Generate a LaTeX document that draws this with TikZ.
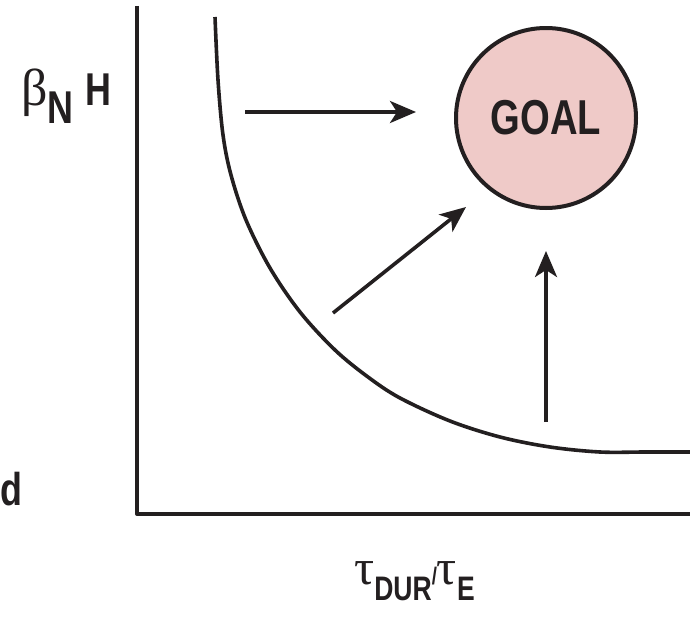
\documentclass[tikz,border=0pt]{standalone}
\usepackage{fontspec}
\setmainfont{Liberation Sans}
\newfontfamily\condfont[FakeStretch=0.78,BoldFont={Liberation Sans Bold}]{Liberation Sans}
\newfontfamily\greekfont{Liberation Serif}
\usetikzlibrary{arrows.meta}
\definecolor{inkline}{HTML}{231F20}
\definecolor{goalpink}{HTML}{EFCAC8}

\begin{document}
\begin{tikzpicture}[
  x=1pt,
  y=-1pt,
  line join=round,
  axis/.style={draw=inkline,line width=4pt},
  boundary/.style={draw=inkline,line width=3.6pt},
  push/.style={draw=inkline,line width=3.6pt,
    -{Stealth[length=26pt,width=22pt,inset=7pt]}},
  goalcircle/.style={circle,draw=inkline,fill=goalpink,line width=4pt,
    minimum size=180pt,inner sep=0pt,text=inkline,
    font=\condfont\bfseries\fontsize{49}{49}\selectfont},
  label/.style={text=inkline,inner sep=0pt,
    font=\condfont\bfseries\fontsize{46}{46}\selectfont},
  sublabel/.style={text=inkline,inner sep=0pt,
    font=\condfont\bfseries\fontsize{34}{34}\selectfont}
]
  \useasboundingbox (0,0) rectangle (690,618);

  % Axes
  \coordinate (origin) at (137,514);
  \coordinate (ytop) at (137,6);
  \coordinate (xend) at (690,514);
  \draw[axis] (ytop) -- (origin) -- (xend);

  % Stability boundary
  \draw[boundary] plot[smooth,tension=0.55] coordinates {
    (215,17) (218,80) (223,135) (231,175) (246,220) (270,268)
    (300,312) (335,350) (368,377) (400,398) (450,421) (500,437)
    (550,447) (600,452) (645,452) (690,452)};

  % Target region
  \node[goalcircle] (goal) at (546,118) {GOAL};

  % Paths towards the goal
  \coordinate (fromleft) at (245,112);
  \coordinate (toleft) at (416,112);
  \coordinate (fromdiag) at (333,313);
  \coordinate (todiag) at (466,207);
  \coordinate (frombelow) at (546,422);
  \coordinate (tobelow) at (546,251);
  \draw[push] (fromleft) -- (toleft);
  \draw[push] (fromdiag) -- (todiag);
  \draw[push] (frombelow) -- (tobelow);

  % Axis labels
  \node[label,anchor=base west] (ylabel) at (21,105)
    {{\greekfont\mdseries\fontsize{52}{52}\selectfont β}%
     \raisebox{-18pt}{N}\hspace{12pt}H};
  \node[sublabel,anchor=base west] (xlabel) at (354,584)
    {{\greekfont\mdseries\fontsize{50}{50}\selectfont τ}%
     \raisebox{-16pt}{DUR}{\fontsize{24}{24}\selectfont/}%
     {\greekfont\mdseries\fontsize{50}{50}\selectfont τ}%
     \raisebox{-16pt}{E}};
  \node[label,anchor=base west] (cutlabel) at (0,505) {d};

\end{tikzpicture}
\end{document}
